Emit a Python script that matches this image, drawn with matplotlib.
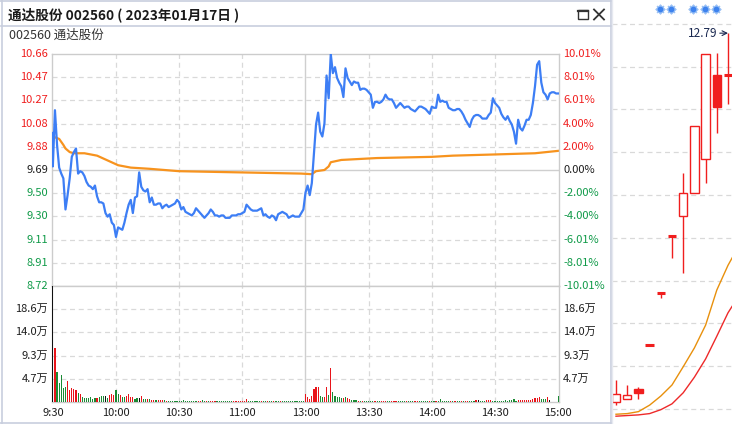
import numpy as np
import matplotlib.pyplot as plt
import matplotlib.transforms as mtrans
from matplotlib.patches import Rectangle
from matplotlib.lines import Line2D

plt.rcParams['font.family'] = ['Noto Sans CJK SC', 'DejaVu Sans']

# ---------------- data: intraday 2023-01-17 ----------------
prev_close = 9.69
open_price = 10.00   # opening auction print

# last price, one value per minute (0 = 9:30 ... 120 = 13:00 ... 240 = 15:00)
prices = [
    9.72, 10.19, 9.90, 9.71, 9.66, 9.62, 9.36, 9.48, 9.62, 9.80,
    9.84, 9.87, 9.66, 9.68, 9.67, 9.64, 9.59, 9.56, 9.55, 9.53,
    9.56, 9.47, 9.42, 9.42, 9.41, 9.33, 9.30, 9.32, 9.25, 9.23,
    9.13, 9.21, 9.20, 9.19, 9.25, 9.33, 9.40, 9.44, 9.33, 9.46,
    9.47, 9.67, 9.55, 9.52, 9.51, 9.53, 9.42, 9.46, 9.40, 9.40,
    9.41, 9.41, 9.37, 9.39, 9.40, 9.38, 9.39, 9.40, 9.41, 9.44,
    9.42, 9.36, 9.38, 9.34, 9.33, 9.32, 9.31, 9.33, 9.37, 9.35,
    9.33, 9.31, 9.29, 9.31, 9.33, 9.36, 9.34, 9.31, 9.31, 9.30,
    9.31, 9.31, 9.29, 9.29, 9.29, 9.31, 9.31, 9.31, 9.32, 9.32,
    9.33, 9.34, 9.40, 9.38, 9.36, 9.35, 9.35, 9.35, 9.36, 9.37,
    9.31, 9.32, 9.30, 9.29, 9.31, 9.30, 9.27, 9.32, 9.33, 9.34,
    9.33, 9.32, 9.29, 9.30, 9.31, 9.30, 9.30, 9.30, 9.33, 9.36,
    9.50, 9.56, 9.48, 9.58, 9.82, 10.07, 10.17, 10.01, 9.97, 10.08,
    10.48, 10.29, 10.66, 10.50, 10.55, 10.46, 10.42, 10.39, 10.30, 10.54,
    10.46, 10.43, 10.40, 10.43, 10.42, 10.42, 10.36, 10.37, 10.37, 10.36,
    10.34, 10.32, 10.21, 10.26, 10.26, 10.25, 10.26, 10.28, 10.32, 10.29,
    10.28, 10.28, 10.25, 10.21, 10.23, 10.25, 10.23, 10.21, 10.22, 10.22,
    10.20, 10.19, 10.18, 10.20, 10.22, 10.22, 10.21, 10.20, 10.18, 10.16,
    10.22, 10.21, 10.21, 10.32, 10.26, 10.27, 10.26, 10.26, 10.21, 10.20,
    10.19, 10.19, 10.20, 10.20, 10.18, 10.15, 10.11, 10.08, 10.05, 10.11,
    10.14, 10.15, 10.15, 10.14, 10.12, 10.12, 10.12, 10.15, 10.17, 10.29,
    10.25, 10.23, 10.21, 10.16, 10.13, 10.11, 10.14, 10.10, 10.07, 10.01,
    9.91, 10.11, 10.04, 10.02, 10.06, 10.11, 10.11, 10.15, 10.25, 10.39,
    10.57, 10.60, 10.42, 10.34, 10.32, 10.28, 10.33, 10.34, 10.34, 10.33,
    10.33,
]

# average price line (minute, value)
avg_t = [0, 3, 5, 6, 8, 10, 15, 21, 26, 31, 37, 46, 60, 89, 118, 123, 125,
         129, 131, 132, 137, 154, 180, 190, 210, 229, 240]
avg_v = [9.97, 9.95, 9.90, 9.87, 9.84, 9.83, 9.83, 9.81, 9.77, 9.73, 9.71, 9.70,
         9.68, 9.67, 9.66, 9.655, 9.68, 9.69, 9.72, 9.755, 9.774, 9.79, 9.80,
         9.81, 9.82, 9.83, 9.85]

# volume per minute (万), with direction r=up g=down k=flat
volumes = [
    23.3, 10.9, 6.1, 3.9, 5.5, 2.8, 3.0, 4.3, 2.5, 2.8,
    2.7, 2.4, 1.8, 1.6, 1.0, 0.9, 0.9, 0.9, 1.0, 0.7,
    0.75, 0.9, 1.1, 1.2, 1.3, 1.2, 0.9, 1.4, 1.7, 1.5,
    2.5, 1.7, 1.4, 1.0, 1.1, 1.2, 1.7, 1.1, 1.1, 0.7,
    0.8, 0.8, 1.3, 0.7, 0.6, 0.6, 0.6, 0.5, 0.45, 0.35,
    0.4, 0.45, 0.45, 0.35, 0.3, 0.25, 0.25, 0.2, 0.2, 0.2,
    0.2, 0.2, 0.45, 0.3, 0.2, 0.2, 0.2, 0.2, 0.2, 0.25,
    0.25, 0.45, 0.25, 0.25, 0.2, 0.2, 0.3, 0.25, 0.2, 0.2,
    0.2, 0.2, 0.2, 0.2, 0.2, 0.2, 0.2, 0.2, 0.2, 0.2,
    0.25, 0.3, 0.6, 0.2, 0.2, 0.2, 0.2, 0.2, 0.25, 0.25,
    0.2, 0.2, 0.2, 0.2, 0.2, 0.2, 0.2, 0.25, 0.2, 0.2,
    0.2, 0.2, 0.2, 0.2, 0.2, 0.2, 0.2, 0.2, 0.25, 0.3,
    1.7, 0.95, 0.68, 1.15, 2.7, 3.0, 3.0, 1.3, 1.1, 0.95,
    3.1, 1.35, 6.8, 2.1, 1.3, 1.1, 0.95, 0.9, 0.75, 0.95,
    0.85, 0.6, 0.45, 0.4, 0.35, 0.3, 0.25, 0.2, 0.2, 0.2,
    0.2, 0.2, 0.3, 0.2, 0.2, 0.2, 0.2, 0.3, 0.2, 0.2,
    0.2, 0.2, 0.25, 0.3, 0.2, 0.2, 0.2, 0.2, 0.2, 0.2,
    0.2, 0.2, 0.2, 0.2, 0.2, 0.2, 0.2, 0.2, 0.2, 0.2,
    0.2, 0.2, 0.2, 0.2, 0.6, 0.2, 0.2, 0.2, 0.2, 0.2,
    0.2, 0.2, 0.2, 0.2, 0.2, 0.2, 0.2, 0.2, 0.2, 0.2,
    0.2, 0.4, 0.4, 0.2, 0.2, 0.2, 0.4, 0.4, 0.4, 0.2,
    0.2, 0.2, 0.2, 0.2, 0.2, 0.4, 0.2, 0.4, 0.4, 0.6,
    0.2, 0.4, 0.4, 0.4, 0.4, 0.4, 0.4, 0.4, 0.55, 0.75,
    0.9, 1.1, 0.7, 0.55, 0.55, 1.0, 0.35, 0.0, 0.0, 0.0,
    1.2,
]
vol_dir = ("krgggggrrr" "rrgrgggggg" "grgggkgrrr" "ggrggrrrrg" "gkrggrgrrg"
           "rrrgrggggg" "gggggggggr" "rggrgrrrgg" "ggggggrrrr" "rrrggggggr"
           "ggrggrggrg" "gggggggggg" "rrrrrrrggr" "rgrgggggrg" "rrgggrgrgg"
           "gggrggrrrg" "grrrggggrg" "ggrrgggggr" "ggrggggggr" "grggrgrrgg"
           "grkgggrrrg" "gggggggggg" "grrrrrrrrr" "rrgggrkggg" "g")

pct_ticks = [10.01, 8.01, 6.01, 4.00, 2.00, 0.00, -2.00, -4.00, -6.01, -8.01, -10.01]
price_labels = ['10.66', '10.47', '10.27', '10.08', '9.88', '9.69',
                '9.50', '9.30', '9.11', '8.91', '8.72']
pct_labels = ['10.01%', '8.01%', '6.01%', '4.00%', '2.00%', '0.00%',
              '-2.00%', '-4.00%', '-6.01%', '-8.01%', '-10.01%']
vol_max = 23.3
vol_ticks = [4.66, 9.32, 13.98, 18.64]
vol_labels = ['4.7万', '9.3万', '14.0万', '18.6万']
time_ticks = [0, 30, 60, 90, 120, 150, 180, 210, 240]
time_labels = ['9:30', '10:00', '10:30', '11:00', '13:00', '13:30', '14:00', '14:30', '15:00']

# daily k-line seen behind the popup
k_open = [7.12, 7.16, 7.32, 7.99, 8.79, 9.67, 9.98, 10.33, 10.85, 12.15, 12.15]
k_close = [7.24, 7.23, 7.26, 7.99, 8.79, 9.67, 10.33, 11.36, 12.47, 11.65, 12.15]
k_high = [7.46, 7.38, 7.35, 7.99, 8.79, 9.67, 10.64, 11.36, 12.47, 12.48, 12.79]
k_low = [7.07, 7.16, 7.16, 7.99, 8.72, 9.33, 9.10, 10.33, 10.48, 11.25, 11.70]
ma_a = [6.93, 6.94, 6.97, 7.07, 7.21, 7.38, 7.66, 7.95, 8.30, 8.84, 9.22, 9.53]
ma_b = [6.90, 6.91, 6.92, 6.94, 7.00, 7.09, 7.26, 7.50, 7.78, 8.13, 8.49, 8.76]
k_grid = [12.93, 12.27, 11.62, 10.96, 10.30, 9.64, 8.98, 8.33, 7.67, 7.01]

RED = '#f01e1e'
GREEN = '#0f9a48'
DARK = '#1e1e1e'
BLUE = '#3d7ef5'
ORANGE = '#f7931e'
GRID = '#d9d9d9'
FRAME = '#c8cede'

W, H = 732, 424
fig = plt.figure(figsize=(W / 100, H / 100), dpi=100)


def box(x0, y0, x1, y1):
    return [x0 / W, 1 - y1 / H, (x1 - x0) / W, (y1 - y0) / H]


def fline(xs, ys, **kw):
    fig.add_artist(Line2D([x / W for x in xs], [1 - y / H for y in ys],
                          transform=fig.transFigure, **kw))


# ---------------- background k-line (right side) ----------------
axk = fig.add_axes(box(612, 0, 732, 424))
axk.set_xlim(-0.357, 10.357)
axk.set_ylim(6.78, 13.30)
axk.axis('off')
for g in k_grid:
    axk.axhline(g, color=GRID, lw=0.9, ls=(0, (4, 3)), zorder=1)
axk.plot(range(len(ma_a)), ma_a, color='#e8900c', lw=1.0, zorder=2)
axk.plot(range(len(ma_b)), ma_b, color='#ee2a2a', lw=1.0, zorder=2)
for i in range(len(k_open)):
    o, c, hi, lo = k_open[i], k_close[i], k_high[i], k_low[i]
    axk.vlines(i, lo, hi, color=RED, lw=1.0, zorder=3)
    if abs(c - o) < 0.02:
        axk.hlines(o, i - 0.37, i + 0.37, color=RED, lw=2.2, zorder=4)
    else:
        fc = 'white' if c > o else RED
        axk.add_patch(Rectangle((i - 0.37, min(o, c)), 0.74, abs(c - o),
                                facecolor=fc, edgecolor=RED, lw=1.0, zorder=4))
axk.annotate('12.79', xy=(10, max(k_high)), xytext=(-11, 0), textcoords='offset pixels',
             ha='right', va='center', fontsize=8.5, color='#1a2850',
             arrowprops=dict(arrowstyle='->', color='#1a2850', lw=0.8,
                             shrinkA=0, shrinkB=0))
for sx in [660, 671, 693, 705, 716]:
    axk.scatter([(sx - 612) / 120], [1 - 9 / 424], transform=axk.transAxes,
                marker=(8, 2, 0), s=32, color='#9cc2f5', lw=1.4, zorder=5, clip_on=False)
    axk.scatter([(sx - 612) / 120], [1 - 9 / 424], transform=axk.transAxes,
                marker='o', s=10, color='#3d82ee', zorder=6, clip_on=False)

# ---------------- popup window frame ----------------
fline([1.5, 1.5], [0, 424], color=FRAME, lw=1.2, zorder=5)
fline([0, 611], [1, 1], color=FRAME, lw=1.2, zorder=5)
fline([0, 611], [422.5, 422.5], color=FRAME, lw=1.2, zorder=5)
fline([1, 611], [25.5, 25.5], color=FRAME, lw=1.2, zorder=5)
fline([610.5, 610.5], [0, 424], color=FRAME, lw=1.2, zorder=5)
fline([611.8, 611.8], [0, 424], color='#e6e9f0', lw=1.0, zorder=5)

fig.text(8 / W, 1 - 15 / H, '通达股份 002560 ( 2023年01月17日 )', fontsize=9.8,
         fontweight='bold', color='#1a1a1a', va='center', ha='left')
fig.text(9 / W, 1 - 35 / H, '002560 通达股份', fontsize=9, color='#333333',
         va='center', ha='left')
fig.add_artist(Rectangle((578 / W, 1 - 19 / H), 10 / W, 9 / H, transform=fig.transFigure,
                         facecolor='none', edgecolor='#333333', lw=1.0, zorder=6))
fline([578, 588], [11, 11], color='#333333', lw=1.6, zorder=6)
fline([594, 604], [9.5, 19.5], color='#333333', lw=1.3, zorder=6)
fline([594, 604], [19.5, 9.5], color='#333333', lw=1.3, zorder=6)

# ---------------- price pane ----------------
minutes = np.arange(len(prices))
price_ticks = [prev_close * (1 + p / 100) for p in pct_ticks]

ax = fig.add_axes(box(52, 54, 559, 286))
ax.set_xlim(-0.4, 240.4)
ax.set_ylim(price_ticks[-1], price_ticks[0])
ax.set_xticks([])
ax.set_yticks([])
for s in ax.spines.values():
    s.set_color('#cccccc')
    s.set_linewidth(1.0)

for pt, pc in zip(price_ticks[1:-1], pct_ticks[1:-1]):
    if pc == 0:
        ax.axhline(pt, color='#cfcfcf', lw=1.0, zorder=1)
    else:
        ax.axhline(pt, color=GRID, lw=0.9, ls=(0, (4, 3)), zorder=1)
for t in time_ticks[1:-1]:
    if t == 120:
        ax.axvline(t, color='#cfcfcf', lw=1.0, zorder=1)
    else:
        ax.axvline(t, color=GRID, lw=0.9, ls=(0, (4, 3)), zorder=1)

ax.plot([0] + list(minutes), [open_price] + prices, color=BLUE, lw=1.6, zorder=3)
ax.plot(avg_t, avg_v, color=ORANGE, lw=1.6, zorder=2)

left_tr = mtrans.blended_transform_factory(ax.transAxes, ax.transData)
for pt, pc, pl, ql in zip(price_ticks, pct_ticks, price_labels, pct_labels):
    col = RED if pc > 0 else (DARK if pc == 0 else GREEN)
    ax.text(-4 / 507, pt, pl, transform=left_tr, ha='right', va='center',
            fontsize=8, color=col)
    ax.text(1 + 4 / 507, pt, ql, transform=left_tr, ha='left', va='center',
            fontsize=8, color=col)

# ---------------- volume pane ----------------
axv = fig.add_axes(box(52, 286, 559, 402))
axv.set_xlim(-0.4, 240.4)
axv.set_ylim(0, vol_max)
axv.set_xticks([])
axv.set_yticks([])
for s in axv.spines.values():
    s.set_color('#cccccc')
    s.set_linewidth(1.0)
for vt in vol_ticks:
    axv.axhline(vt, color=GRID, lw=0.9, ls=(0, (4, 3)), zorder=1)
for t in time_ticks[1:-1]:
    if t == 120:
        axv.axvline(t, color='#cfcfcf', lw=1.0, zorder=1)
    else:
        axv.axvline(t, color=GRID, lw=0.9, ls=(0, (4, 3)), zorder=1)

bar_cols = [{'r': '#e8141a', 'g': '#1a8a34', 'k': '#111111'}[d] for d in vol_dir]
axv.bar(minutes, volumes, width=0.55, color=bar_cols, zorder=3)

vtr = mtrans.blended_transform_factory(axv.transAxes, axv.transData)
for vt, vl in zip(vol_ticks, vol_labels):
    axv.text(-4 / 507, vt, vl, transform=vtr, ha='right', va='center', fontsize=8, color=DARK)
    axv.text(1 + 4 / 507, vt, vl, transform=vtr, ha='left', va='center', fontsize=8, color=DARK)

ttr = mtrans.blended_transform_factory(axv.transData, axv.transAxes)
for t, tl in zip(time_ticks, time_labels):
    axv.text(t, -11 / 116, tl, transform=ttr, ha='center', va='center', fontsize=8, color=DARK)

fig.savefig('out.png', dpi=100, facecolor='white')
